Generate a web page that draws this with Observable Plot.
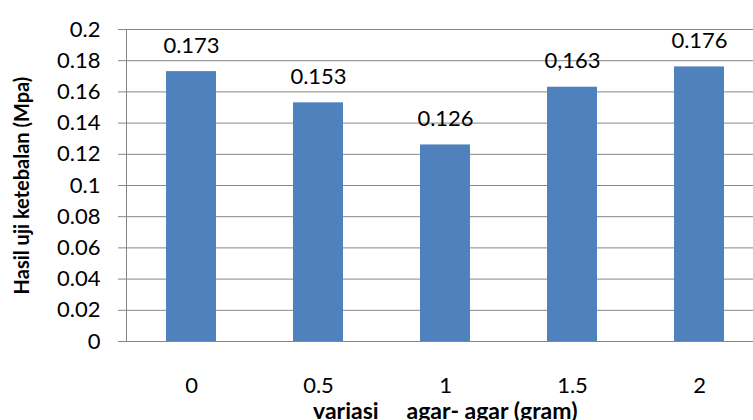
<!DOCTYPE html>
<html>
<head>
<meta charset="utf-8">
<script src="https://cdn.jsdelivr.net/npm/d3@7"></script>
<script src="https://cdn.jsdelivr.net/npm/@observablehq/plot@0.6"></script>
<style>
  html, body { margin: 0; padding: 0; background: #fff; overflow: hidden; }
  #chart { width: 753px; height: 420px; overflow: hidden; }
  #chart svg { display: block; font-family: Lato, "Open Sans", sans-serif; }
</style>
</head>
<body>
<div id="chart"></div>
<script>
// Agar-agar variation (gram) and measured thickness test result (MPa)
const categories = ["0", "0.5", "1", "1.5", "2"];
const values = [0.173, 0.153, 0.126, 0.163, 0.176];
const valueLabels = ["0.173", "0.153", "0.126", "0,163", "0.176"];
const yTicks = [0, 0.02, 0.04, 0.06, 0.08, 0.1, 0.12, 0.14, 0.16, 0.18, 0.2];
const yTitle = "Hasil uji ketebalan (Mpa)";
const xTitle = "variasi\u00a0\u00a0\u00a0\u00a0 agar- agar (gram)";

const data = categories.map((c, i) => ({cat: c, value: values[i], label: valueLabels[i]}));

const gridColor = "#868686";
const barColor = "#4F81BD";

const chart = Plot.plot({
  width: 753,
  height: 420,
  marginLeft: 126,
  marginRight: -10.5,
  marginTop: 29,
  marginBottom: 79,
  style: {color: "#000", background: "#fff"},
  x: {type: "band", domain: categories, paddingInner: 0.608, paddingOuter: 0.304, axis: null},
  y: {domain: [0, 0.2], axis: null},
  marks: [
    Plot.gridY(yTicks, {stroke: gridColor, strokeOpacity: 1}),
    Plot.frame({anchor: "left", stroke: gridColor}),
    Plot.barY(data, {x: "cat", y: "value", fill: barColor}),
    Plot.axisY(yTicks, {
      label: null,
      tickSize: 8,
      tickPadding: 18,
      stroke: gridColor,
      fontSize: 22,
      tickFormat: d => String(+d.toFixed(2))
    }),
    Plot.axisX(categories, {label: null, tickSize: 0, tickPadding: 36, fontSize: 22}),
    Plot.text(data, {
      x: "cat", y: "value", text: "label",
      lineAnchor: "bottom", dy: -19, fontSize: 22, fill: "#000"
    }),
    Plot.text([yTitle], {
      frameAnchor: "left", dx: -104, rotate: -90,
      textAnchor: "middle", lineAnchor: "middle",
      fontSize: 20, fontWeight: "bold", fill: "#000"
    }),
    Plot.text([xTitle], {
      frameAnchor: "bottom", dy: 61, lineAnchor: "top",
      fontSize: 23, fontWeight: "bold", fill: "#000"
    })
  ]
});

document.getElementById("chart").append(chart);
</script>
</body>
</html>
